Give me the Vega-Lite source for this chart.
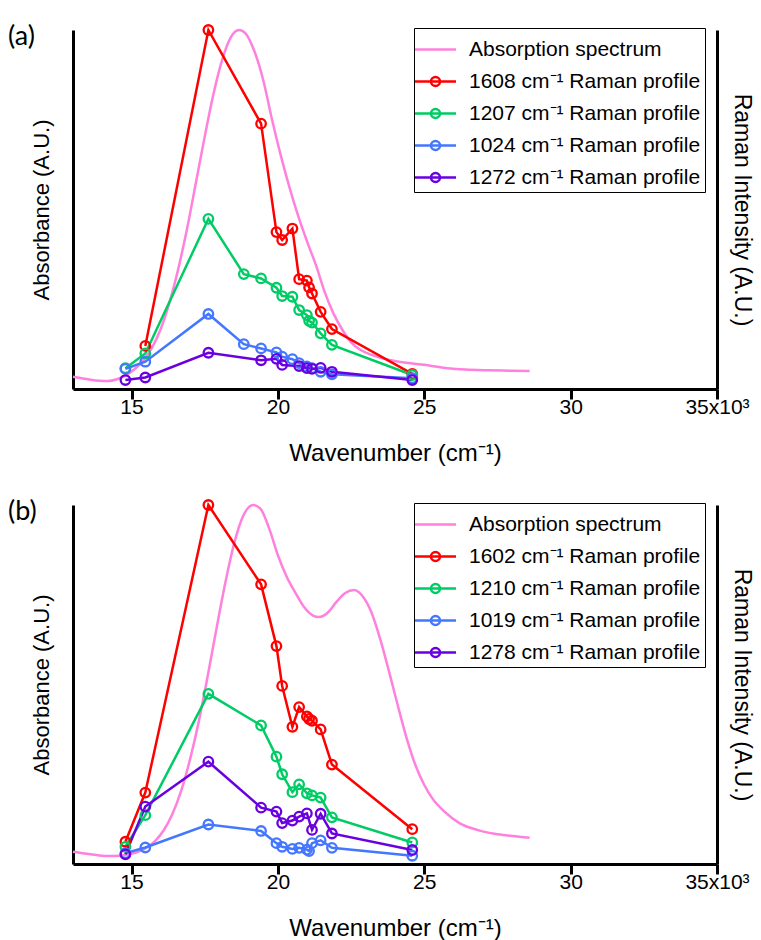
{
  "$schema": "https://vega.github.io/schema/vega-lite/v6.json",
  "padding": {"left": 8, "top": 20, "right": 4, "bottom": 0},
  "config": {
    "view": {"stroke": null},
    "font": "Arial, Liberation Sans, sans-serif",
    "axis": {"domainColor": "black", "domainWidth": 3, "tickColor": "black", "tickWidth": 3, "grid": false, "labelColor": "black", "titleColor": "black", "labelFontSize": 21, "titleFontSize": 22, "titleFontWeight": "normal", "labelFont": "Arial, Liberation Sans, sans-serif", "titleFont": "Arial, Liberation Sans, sans-serif", "labelFlush": false},
    "axisX": {"titleFontSize": 24},
    "axisRight": {"titleFontSize": 23},
    "legend": {"labelFont": "Arial, Liberation Sans, sans-serif", "labelLimit": 0, "titlePadding": 0}
  },
  "datasets": {
    "absA": [
      {"x":13000,"f":0.034,"s":"Absorption spectrum"},{"x":13300,"f":0.030,"s":"Absorption spectrum"},{"x":13600,"f":0.026,"s":"Absorption spectrum"},{"x":13900,"f":0.023,"s":"Absorption spectrum"},{"x":14200,"f":0.022,"s":"Absorption spectrum"},{"x":14500,"f":0.027,"s":"Absorption spectrum"},{"x":14800,"f":0.038,"s":"Absorption spectrum"},{"x":15100,"f":0.055,"s":"Absorption spectrum"},{"x":15400,"f":0.079,"s":"Absorption spectrum"},{"x":15700,"f":0.115,"s":"Absorption spectrum"},{"x":16000,"f":0.168,"s":"Absorption spectrum"},{"x":16300,"f":0.242,"s":"Absorption spectrum"},{"x":16600,"f":0.336,"s":"Absorption spectrum"},{"x":16900,"f":0.448,"s":"Absorption spectrum"},{"x":17200,"f":0.575,"s":"Absorption spectrum"},{"x":17500,"f":0.703,"s":"Absorption spectrum"},{"x":17800,"f":0.822,"s":"Absorption spectrum"},{"x":18100,"f":0.918,"s":"Absorption spectrum"},{"x":18400,"f":0.981,"s":"Absorption spectrum"},{"x":18674,"f":1.0,"s":"Absorption spectrum"},{"x":18900,"f":0.99,"s":"Absorption spectrum"},{"x":19200,"f":0.94,"s":"Absorption spectrum"},{"x":19500,"f":0.86,"s":"Absorption spectrum"},{"x":19800,"f":0.75,"s":"Absorption spectrum"},{"x":20100,"f":0.65,"s":"Absorption spectrum"},{"x":20400,"f":0.56,"s":"Absorption spectrum"},{"x":20700,"f":0.48,"s":"Absorption spectrum"},{"x":21000,"f":0.41,"s":"Absorption spectrum"},{"x":21300,"f":0.345,"s":"Absorption spectrum"},{"x":21600,"f":0.27,"s":"Absorption spectrum"},{"x":21900,"f":0.21,"s":"Absorption spectrum"},{"x":22200,"f":0.165,"s":"Absorption spectrum"},{"x":22500,"f":0.13,"s":"Absorption spectrum"},{"x":22800,"f":0.11,"s":"Absorption spectrum"},{"x":23200,"f":0.095,"s":"Absorption spectrum"},{"x":23600,"f":0.085,"s":"Absorption spectrum"},{"x":24000,"f":0.078,"s":"Absorption spectrum"},{"x":24600,"f":0.071,"s":"Absorption spectrum"},{"x":25200,"f":0.065,"s":"Absorption spectrum"},{"x":25800,"f":0.058,"s":"Absorption spectrum"},{"x":26400,"f":0.054,"s":"Absorption spectrum"},{"x":27200,"f":0.052,"s":"Absorption spectrum"},{"x":28000,"f":0.051,"s":"Absorption spectrum"},{"x":28600,"f":0.050,"s":"Absorption spectrum"}
    ],
    "ramA": [
      {"x":15470,"f":0.120,"s":"1608 cm⁻¹ Raman profile"},{"x":17625,"f":1.0,"s":"1608 cm⁻¹ Raman profile"},{"x":19425,"f":0.739,"s":"1608 cm⁻¹ Raman profile"},{"x":19950,"f":0.437,"s":"1608 cm⁻¹ Raman profile"},{"x":20145,"f":0.415,"s":"1608 cm⁻¹ Raman profile"},{"x":20495,"f":0.447,"s":"1608 cm⁻¹ Raman profile"},{"x":20725,"f":0.306,"s":"1608 cm⁻¹ Raman profile"},{"x":20990,"f":0.302,"s":"1608 cm⁻¹ Raman profile"},{"x":21065,"f":0.283,"s":"1608 cm⁻¹ Raman profile"},{"x":21165,"f":0.266,"s":"1608 cm⁻¹ Raman profile"},{"x":21460,"f":0.215,"s":"1608 cm⁻¹ Raman profile"},{"x":21845,"f":0.167,"s":"1608 cm⁻¹ Raman profile"},{"x":24590,"f":0.042,"s":"1608 cm⁻¹ Raman profile"},
      {"x":14790,"f":0.058,"s":"1207 cm⁻¹ Raman profile"},{"x":15470,"f":0.099,"s":"1207 cm⁻¹ Raman profile"},{"x":17625,"f":0.474,"s":"1207 cm⁻¹ Raman profile"},{"x":18835,"f":0.320,"s":"1207 cm⁻¹ Raman profile"},{"x":19425,"f":0.308,"s":"1207 cm⁻¹ Raman profile"},{"x":19950,"f":0.282,"s":"1207 cm⁻¹ Raman profile"},{"x":20145,"f":0.259,"s":"1207 cm⁻¹ Raman profile"},{"x":20495,"f":0.257,"s":"1207 cm⁻¹ Raman profile"},{"x":20725,"f":0.220,"s":"1207 cm⁻¹ Raman profile"},{"x":20990,"f":0.206,"s":"1207 cm⁻¹ Raman profile"},{"x":21065,"f":0.190,"s":"1207 cm⁻¹ Raman profile"},{"x":21165,"f":0.185,"s":"1207 cm⁻¹ Raman profile"},{"x":21460,"f":0.155,"s":"1207 cm⁻¹ Raman profile"},{"x":21845,"f":0.123,"s":"1207 cm⁻¹ Raman profile"},{"x":24590,"f":0.039,"s":"1207 cm⁻¹ Raman profile"},
      {"x":14790,"f":0.056,"s":"1024 cm⁻¹ Raman profile"},{"x":15470,"f":0.076,"s":"1024 cm⁻¹ Raman profile"},{"x":17625,"f":0.209,"s":"1024 cm⁻¹ Raman profile"},{"x":18835,"f":0.125,"s":"1024 cm⁻¹ Raman profile"},{"x":19425,"f":0.113,"s":"1024 cm⁻¹ Raman profile"},{"x":19950,"f":0.102,"s":"1024 cm⁻¹ Raman profile"},{"x":20145,"f":0.090,"s":"1024 cm⁻¹ Raman profile"},{"x":20495,"f":0.083,"s":"1024 cm⁻¹ Raman profile"},{"x":20725,"f":0.072,"s":"1024 cm⁻¹ Raman profile"},{"x":20990,"f":0.063,"s":"1024 cm⁻¹ Raman profile"},{"x":21165,"f":0.058,"s":"1024 cm⁻¹ Raman profile"},{"x":21460,"f":0.048,"s":"1024 cm⁻¹ Raman profile"},{"x":21845,"f":0.041,"s":"1024 cm⁻¹ Raman profile"},{"x":24590,"f":0.030,"s":"1024 cm⁻¹ Raman profile"},
      {"x":14790,"f":0.025,"s":"1272 cm⁻¹ Raman profile"},{"x":15470,"f":0.032,"s":"1272 cm⁻¹ Raman profile"},{"x":17625,"f":0.101,"s":"1272 cm⁻¹ Raman profile"},{"x":19425,"f":0.080,"s":"1272 cm⁻¹ Raman profile"},{"x":19950,"f":0.084,"s":"1272 cm⁻¹ Raman profile"},{"x":20145,"f":0.067,"s":"1272 cm⁻¹ Raman profile"},{"x":20725,"f":0.064,"s":"1272 cm⁻¹ Raman profile"},{"x":20990,"f":0.058,"s":"1272 cm⁻¹ Raman profile"},{"x":21165,"f":0.056,"s":"1272 cm⁻¹ Raman profile"},{"x":21460,"f":0.059,"s":"1272 cm⁻¹ Raman profile"},{"x":21845,"f":0.048,"s":"1272 cm⁻¹ Raman profile"},{"x":24590,"f":0.025,"s":"1272 cm⁻¹ Raman profile"}
    ],
    "absB": [
      {"x":13000,"f":0.034,"s":"Absorption spectrum"},{"x":13400,"f":0.029,"s":"Absorption spectrum"},{"x":13800,"f":0.025,"s":"Absorption spectrum"},{"x":14200,"f":0.022,"s":"Absorption spectrum"},{"x":14600,"f":0.023,"s":"Absorption spectrum"},{"x":14900,"f":0.027,"s":"Absorption spectrum"},{"x":15200,"f":0.033,"s":"Absorption spectrum"},{"x":15500,"f":0.045,"s":"Absorption spectrum"},{"x":15800,"f":0.064,"s":"Absorption spectrum"},{"x":16100,"f":0.094,"s":"Absorption spectrum"},{"x":16400,"f":0.140,"s":"Absorption spectrum"},{"x":16700,"f":0.205,"s":"Absorption spectrum"},{"x":17000,"f":0.292,"s":"Absorption spectrum"},{"x":17300,"f":0.398,"s":"Absorption spectrum"},{"x":17600,"f":0.523,"s":"Absorption spectrum"},{"x":17900,"f":0.655,"s":"Absorption spectrum"},{"x":18200,"f":0.782,"s":"Absorption spectrum"},{"x":18500,"f":0.891,"s":"Absorption spectrum"},{"x":18800,"f":0.967,"s":"Absorption spectrum"},{"x":19152,"f":1.0,"s":"Absorption spectrum"},{"x":19400,"f":0.99,"s":"Absorption spectrum"},{"x":19700,"f":0.935,"s":"Absorption spectrum"},{"x":20000,"f":0.86,"s":"Absorption spectrum"},{"x":20300,"f":0.80,"s":"Absorption spectrum"},{"x":20600,"f":0.755,"s":"Absorption spectrum"},{"x":20900,"f":0.715,"s":"Absorption spectrum"},{"x":21200,"f":0.692,"s":"Absorption spectrum"},{"x":21400,"f":0.688,"s":"Absorption spectrum"},{"x":21700,"f":0.70,"s":"Absorption spectrum"},{"x":22000,"f":0.73,"s":"Absorption spectrum"},{"x":22300,"f":0.755,"s":"Absorption spectrum"},{"x":22600,"f":0.763,"s":"Absorption spectrum"},{"x":22900,"f":0.745,"s":"Absorption spectrum"},{"x":23200,"f":0.70,"s":"Absorption spectrum"},{"x":23500,"f":0.625,"s":"Absorption spectrum"},{"x":23800,"f":0.535,"s":"Absorption spectrum"},{"x":24100,"f":0.44,"s":"Absorption spectrum"},{"x":24400,"f":0.35,"s":"Absorption spectrum"},{"x":24700,"f":0.275,"s":"Absorption spectrum"},{"x":25000,"f":0.22,"s":"Absorption spectrum"},{"x":25300,"f":0.18,"s":"Absorption spectrum"},{"x":25700,"f":0.145,"s":"Absorption spectrum"},{"x":26200,"f":0.114,"s":"Absorption spectrum"},{"x":26800,"f":0.095,"s":"Absorption spectrum"},{"x":27400,"f":0.084,"s":"Absorption spectrum"},{"x":28000,"f":0.078,"s":"Absorption spectrum"},{"x":28600,"f":0.073,"s":"Absorption spectrum"}
    ],
    "ramB": [
      {"x":14790,"f":0.062,"s":"1602 cm⁻¹ Raman profile"},{"x":15470,"f":0.199,"s":"1602 cm⁻¹ Raman profile"},{"x":17625,"f":1.0,"s":"1602 cm⁻¹ Raman profile"},{"x":19425,"f":0.779,"s":"1602 cm⁻¹ Raman profile"},{"x":19950,"f":0.607,"s":"1602 cm⁻¹ Raman profile"},{"x":20145,"f":0.496,"s":"1602 cm⁻¹ Raman profile"},{"x":20495,"f":0.382,"s":"1602 cm⁻¹ Raman profile"},{"x":20725,"f":0.437,"s":"1602 cm⁻¹ Raman profile"},{"x":20990,"f":0.411,"s":"1602 cm⁻¹ Raman profile"},{"x":21065,"f":0.404,"s":"1602 cm⁻¹ Raman profile"},{"x":21165,"f":0.399,"s":"1602 cm⁻¹ Raman profile"},{"x":21460,"f":0.375,"s":"1602 cm⁻¹ Raman profile"},{"x":21845,"f":0.277,"s":"1602 cm⁻¹ Raman profile"},{"x":24590,"f":0.097,"s":"1602 cm⁻¹ Raman profile"},
      {"x":14790,"f":0.048,"s":"1210 cm⁻¹ Raman profile"},{"x":15470,"f":0.136,"s":"1210 cm⁻¹ Raman profile"},{"x":17625,"f":0.474,"s":"1210 cm⁻¹ Raman profile"},{"x":19425,"f":0.386,"s":"1210 cm⁻¹ Raman profile"},{"x":19950,"f":0.299,"s":"1210 cm⁻¹ Raman profile"},{"x":20145,"f":0.250,"s":"1210 cm⁻¹ Raman profile"},{"x":20495,"f":0.200,"s":"1210 cm⁻¹ Raman profile"},{"x":20725,"f":0.222,"s":"1210 cm⁻¹ Raman profile"},{"x":20990,"f":0.197,"s":"1210 cm⁻¹ Raman profile"},{"x":21165,"f":0.191,"s":"1210 cm⁻¹ Raman profile"},{"x":21460,"f":0.185,"s":"1210 cm⁻¹ Raman profile"},{"x":21845,"f":0.130,"s":"1210 cm⁻¹ Raman profile"},{"x":24590,"f":0.060,"s":"1210 cm⁻¹ Raman profile"},
      {"x":14790,"f":0.030,"s":"1019 cm⁻¹ Raman profile"},{"x":15470,"f":0.046,"s":"1019 cm⁻¹ Raman profile"},{"x":17625,"f":0.110,"s":"1019 cm⁻¹ Raman profile"},{"x":19425,"f":0.092,"s":"1019 cm⁻¹ Raman profile"},{"x":19950,"f":0.058,"s":"1019 cm⁻¹ Raman profile"},{"x":20145,"f":0.048,"s":"1019 cm⁻¹ Raman profile"},{"x":20495,"f":0.042,"s":"1019 cm⁻¹ Raman profile"},{"x":20725,"f":0.045,"s":"1019 cm⁻¹ Raman profile"},{"x":20990,"f":0.040,"s":"1019 cm⁻¹ Raman profile"},{"x":21065,"f":0.036,"s":"1019 cm⁻¹ Raman profile"},{"x":21165,"f":0.058,"s":"1019 cm⁻¹ Raman profile"},{"x":21460,"f":0.066,"s":"1019 cm⁻¹ Raman profile"},{"x":21845,"f":0.045,"s":"1019 cm⁻¹ Raman profile"},{"x":24590,"f":0.023,"s":"1019 cm⁻¹ Raman profile"},
      {"x":14790,"f":0.027,"s":"1278 cm⁻¹ Raman profile"},{"x":15470,"f":0.160,"s":"1278 cm⁻¹ Raman profile"},{"x":17625,"f":0.285,"s":"1278 cm⁻¹ Raman profile"},{"x":19425,"f":0.157,"s":"1278 cm⁻¹ Raman profile"},{"x":19950,"f":0.146,"s":"1278 cm⁻¹ Raman profile"},{"x":20145,"f":0.114,"s":"1278 cm⁻¹ Raman profile"},{"x":20495,"f":0.121,"s":"1278 cm⁻¹ Raman profile"},{"x":20725,"f":0.132,"s":"1278 cm⁻¹ Raman profile"},{"x":20990,"f":0.141,"s":"1278 cm⁻¹ Raman profile"},{"x":21165,"f":0.095,"s":"1278 cm⁻¹ Raman profile"},{"x":21460,"f":0.140,"s":"1278 cm⁻¹ Raman profile"},{"x":21845,"f":0.085,"s":"1278 cm⁻¹ Raman profile"},{"x":24590,"f":0.039,"s":"1278 cm⁻¹ Raman profile"}
    ]
  },
  "resolve": {"scale": {"color": "independent"}, "legend": {"color": "independent"}},
  "spacing": 30,
  "vconcat": [
    {
      "title": {"text": "(a)", "anchor": "start", "frame": "bounds", "fontSize": 27, "fontWeight": "normal", "font": "Lato", "color": "black", "dx": -22, "dy": 30, "offset": 0},
      "width": 644,
      "height": 359,
      "resolve": {"scale": {"y": "independent"}},
      "layer": [
        {
          "data": {"name": "absA"},
          "mark": {"type": "line", "strokeWidth": 2.5, "interpolate": "monotone"},
          "encoding": {
            "x": {"field": "x", "type": "quantitative", "scale": {"domain": [13000, 35000], "nice": false, "zero": false}, "axis": {"values": [15000, 20000, 25000, 30000, 35000], "labelExpr": "datum.value == 35000 ? '35x10³' : format(datum.value / 1000, 'd')", "tickSize": 10, "labelPadding": -3, "title": "Wavenumber (cm⁻¹)", "titlePadding": 24}},
            "y": {"field": "f", "type": "quantitative", "scale": {"domain": [0, 1], "nice": false, "zero": false}, "axis": {"orient": "left", "title": "Absorbance (A.U.)", "ticks": false, "labels": false, "titlePadding": 20}},
            "color": {"field": "s", "type": "nominal", "scale": {"domain": ["Absorption spectrum", "1608 cm⁻¹ Raman profile", "1207 cm⁻¹ Raman profile", "1024 cm⁻¹ Raman profile", "1272 cm⁻¹ Raman profile"], "range": ["#FF80DD", "#FF0000", "#00CC66", "#4477FF", "#6A00E0"]}, "legend": {"orient": "none", "legendX": 341, "legendY": -2, "title": null, "strokeColor": "black", "fillColor": "white", "padding": 4, "labelFontSize": 21, "labelColor": "black", "labelOffset": 16, "labelLimit": 0, "symbolSize": 1024, "symbolStrokeWidth": 2.5, "symbolFillColor": "transparent", "rowPadding": 4, "encoding": {"symbols": {"shape": {"value": {"expr": "datum.value === 'Absorption spectrum' ? 'M-1.28,0H1.28' : 'M-1.28,0H1.28M-0.28,0A0.28,0.28,0,1,0,0.28,0A0.28,0.28,0,1,0,-0.28,0'"}}}}}}
          }
        },
        {
          "data": {"name": "ramA"},
          "encoding": {
            "x": {"field": "x", "type": "quantitative", "scale": {"domain": [13000, 35000], "nice": false, "zero": false}, "axis": {"values": [15000, 20000, 25000, 30000, 35000], "labelExpr": "datum.value == 35000 ? '35x10³' : format(datum.value / 1000, 'd')", "tickSize": 10, "labelPadding": -3, "title": "Wavenumber (cm⁻¹)", "titlePadding": 24}},
            "y": {"field": "f", "type": "quantitative", "scale": {"domain": [0, 1], "nice": false, "zero": false}, "axis": {"orient": "right", "title": "Raman Intensity (A.U.)", "ticks": false, "labels": false, "titlePadding": 12}},
            "color": {"field": "s", "type": "nominal", "scale": {"domain": ["Absorption spectrum", "1608 cm⁻¹ Raman profile", "1207 cm⁻¹ Raman profile", "1024 cm⁻¹ Raman profile", "1272 cm⁻¹ Raman profile"], "range": ["#FF80DD", "#FF0000", "#00CC66", "#4477FF", "#6A00E0"]}, "legend": {"orient": "none", "legendX": 341, "legendY": -2, "title": null, "strokeColor": "black", "fillColor": "white", "padding": 4, "labelFontSize": 21, "labelColor": "black", "labelOffset": 16, "labelLimit": 0, "symbolSize": 1024, "symbolStrokeWidth": 2.5, "symbolFillColor": "transparent", "rowPadding": 4, "encoding": {"symbols": {"shape": {"value": {"expr": "datum.value === 'Absorption spectrum' ? 'M-1.28,0H1.28' : 'M-1.28,0H1.28M-0.28,0A0.28,0.28,0,1,0,0.28,0A0.28,0.28,0,1,0,-0.28,0'"}}}}}}
          },
          "layer": [
            {"mark": {"type": "line", "strokeWidth": 2.5}},
            {"mark": {"type": "point", "shape": "circle", "size": 90, "strokeWidth": 2.3, "filled": false, "opacity": 1}}
          ]
        }
      ]
    },
    {
      "title": {"text": "(b)", "anchor": "start", "frame": "bounds", "fontSize": 27, "fontWeight": "normal", "font": "Lato", "color": "black", "dx": -22, "dy": 30, "offset": 0},
      "width": 644,
      "height": 359,
      "resolve": {"scale": {"y": "independent"}},
      "layer": [
        {
          "data": {"name": "absB"},
          "mark": {"type": "line", "strokeWidth": 2.5, "interpolate": "monotone"},
          "encoding": {
            "x": {"field": "x", "type": "quantitative", "scale": {"domain": [13000, 35000], "nice": false, "zero": false}, "axis": {"values": [15000, 20000, 25000, 30000, 35000], "labelExpr": "datum.value == 35000 ? '35x10³' : format(datum.value / 1000, 'd')", "tickSize": 10, "labelPadding": -3, "title": "Wavenumber (cm⁻¹)", "titlePadding": 24}},
            "y": {"field": "f", "type": "quantitative", "scale": {"domain": [0, 1], "nice": false, "zero": false}, "axis": {"orient": "left", "title": "Absorbance (A.U.)", "ticks": false, "labels": false, "titlePadding": 20}},
            "color": {"field": "s", "type": "nominal", "scale": {"domain": ["Absorption spectrum", "1602 cm⁻¹ Raman profile", "1210 cm⁻¹ Raman profile", "1019 cm⁻¹ Raman profile", "1278 cm⁻¹ Raman profile"], "range": ["#FF80DD", "#FF0000", "#00CC66", "#4477FF", "#6A00E0"]}, "legend": {"orient": "none", "legendX": 341, "legendY": -2, "title": null, "strokeColor": "black", "fillColor": "white", "padding": 4, "labelFontSize": 21, "labelColor": "black", "labelOffset": 16, "labelLimit": 0, "symbolSize": 1024, "symbolStrokeWidth": 2.5, "symbolFillColor": "transparent", "rowPadding": 4, "encoding": {"symbols": {"shape": {"value": {"expr": "datum.value === 'Absorption spectrum' ? 'M-1.28,0H1.28' : 'M-1.28,0H1.28M-0.28,0A0.28,0.28,0,1,0,0.28,0A0.28,0.28,0,1,0,-0.28,0'"}}}}}}
          }
        },
        {
          "data": {"name": "ramB"},
          "encoding": {
            "x": {"field": "x", "type": "quantitative", "scale": {"domain": [13000, 35000], "nice": false, "zero": false}, "axis": {"values": [15000, 20000, 25000, 30000, 35000], "labelExpr": "datum.value == 35000 ? '35x10³' : format(datum.value / 1000, 'd')", "tickSize": 10, "labelPadding": -3, "title": "Wavenumber (cm⁻¹)", "titlePadding": 24}},
            "y": {"field": "f", "type": "quantitative", "scale": {"domain": [0, 1], "nice": false, "zero": false}, "axis": {"orient": "right", "title": "Raman Intensity (A.U.)", "ticks": false, "labels": false, "titlePadding": 12}},
            "color": {"field": "s", "type": "nominal", "scale": {"domain": ["Absorption spectrum", "1602 cm⁻¹ Raman profile", "1210 cm⁻¹ Raman profile", "1019 cm⁻¹ Raman profile", "1278 cm⁻¹ Raman profile"], "range": ["#FF80DD", "#FF0000", "#00CC66", "#4477FF", "#6A00E0"]}, "legend": {"orient": "none", "legendX": 341, "legendY": -2, "title": null, "strokeColor": "black", "fillColor": "white", "padding": 4, "labelFontSize": 21, "labelColor": "black", "labelOffset": 16, "labelLimit": 0, "symbolSize": 1024, "symbolStrokeWidth": 2.5, "symbolFillColor": "transparent", "rowPadding": 4, "encoding": {"symbols": {"shape": {"value": {"expr": "datum.value === 'Absorption spectrum' ? 'M-1.28,0H1.28' : 'M-1.28,0H1.28M-0.28,0A0.28,0.28,0,1,0,0.28,0A0.28,0.28,0,1,0,-0.28,0'"}}}}}}
          },
          "layer": [
            {"mark": {"type": "line", "strokeWidth": 2.5}},
            {"mark": {"type": "point", "shape": "circle", "size": 90, "strokeWidth": 2.3, "filled": false, "opacity": 1}}
          ]
        }
      ]
    }
  ]
}
